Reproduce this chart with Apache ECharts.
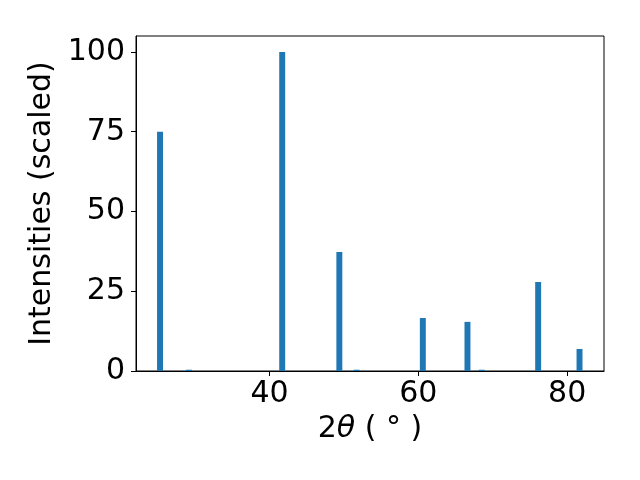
<!DOCTYPE html>
<html>
<head>
<meta charset="utf-8">
<script src="https://cdn.jsdelivr.net/npm/echarts@6/dist/echarts.min.js"></script>
<style>html,body{margin:0;padding:0;background:#fff}#c{width:640px;height:480px}</style>
</head>
<body>
<div id="c"></div>
<script>
const twoTheta = [25.28, 29.17, 41.70, 49.38, 51.70, 60.60, 66.60, 68.50, 76.10, 81.66];
const intensity = [75.0, 0.4, 100.0, 37.3, 0.4, 16.6, 15.4, 0.4, 27.9, 6.9];
const xTicks = [40, 60, 80];
const yTicks = [0, 25, 50, 75, 100];

const BAR_W = 0.8;
const FONT = 'DejaVu Sans';
const FS = 30;
const chart = echarts.init(document.getElementById('c'), null, {renderer: 'canvas'});
const data = twoTheta.map((x, i) => [x, intensity[i]]);
chart.setOption({
  animation: false,
  backgroundColor: '#fff',
  grid: {left: 136, right: 36, top: 36, bottom: 109, show: true, borderColor: '#000', borderWidth: 1, backgroundColor: 'transparent'},
  xAxis: {
    type: 'value', min: 22.05, max: 84.95,
    name: '{n|2}{t|θ}{n| ( ° )}', nameLocation: 'middle', nameGap: 43,
    nameTextStyle: {rich: {n: {fontSize: FS, fontFamily: FONT, color: '#000'}, t: {fontSize: FS, fontFamily: FONT, fontStyle: 'italic', color: '#000'}}},
    axisLine: {lineStyle: {color: '#000', width: 1}},
    axisTick: {show: true, length: 5, lineStyle: {color: '#000'}, customValues: xTicks},
    axisLabel: {customValues: xTicks, fontSize: FS, fontFamily: FONT, color: '#000', margin: 8},
    splitLine: {show: false}
  },
  yAxis: {
    type: 'value', min: 0, max: 105,
    name: 'Intensities (scaled)', nameLocation: 'middle', nameGap: 73,
    nameTextStyle: {fontSize: FS, fontFamily: FONT, color: '#000'},
    axisLine: {show: true, lineStyle: {color: '#000', width: 1}},
    axisTick: {show: true, length: 5, lineStyle: {color: '#000'}, customValues: yTicks},
    axisLabel: {customValues: yTicks, fontSize: FS, fontFamily: FONT, color: '#000', margin: 11},
    splitLine: {show: false}
  },
  series: [{
    type: 'custom',
    clip: true,
    data: data,
    renderItem: function (params, api) {
      const x = api.value(0), y = api.value(1);
      const p1 = api.coord([x - BAR_W / 2, y]);
      const p2 = api.coord([x + BAR_W / 2, 0]);
      return {type: 'rect', shape: {x: p1[0], y: p1[1], width: p2[0] - p1[0], height: p2[1] - p1[1]}, style: {fill: '#1f77b4'}};
    }
  }]
});
</script>
</body>
</html>
